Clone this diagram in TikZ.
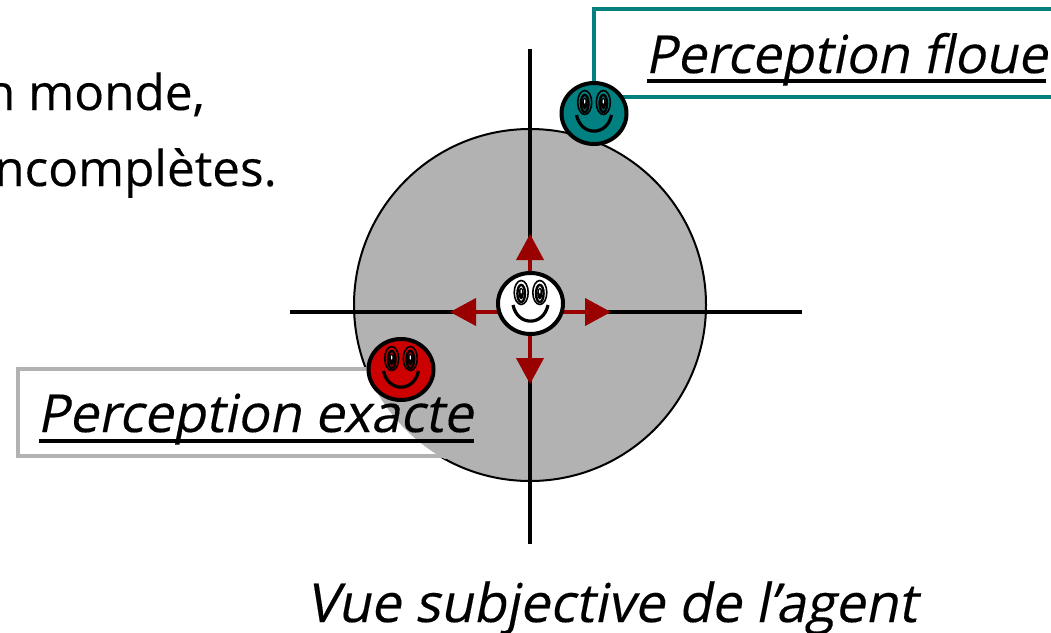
\documentclass[tikz,border=0pt]{standalone}
\usepackage{fontspec}
\setmainfont[FakeBold=0.25]{Open Sans}
\newfontfamily\slantfont[FakeSlant=0.2,FakeBold=0.25]{Open Sans}
\usetikzlibrary{arrows.meta,shapes.geometric}
\definecolor{tealc}{RGB}{0,128,128}
\definecolor{redc}{RGB}{204,0,0}
\definecolor{arrowc}{RGB}{153,0,0}
\definecolor{grayc}{RGB}{178,178,178}
\newcommand{\smiley}[4]{%
\node[ellipse,draw=black,line width=4pt,fill=#4,minimum width=65pt,minimum height=61pt,inner sep=0pt] (#1) at (#2,#3) {};
\begin{scope}[shift={(#2,#3)}]
\foreach \s in {-1,1}{
\draw[line width=1.6pt] (\s*9.3,-11) ellipse (7pt and 12pt);
\draw[line width=2.4pt] (\s*9.3,-10) ellipse (3.8pt and 8.6pt);
\fill (\s*9.3,-10) ellipse (2.6pt and 6pt);
\fill[white] (\s*9.3,-12) ellipse (0.7pt and 2.2pt);
}
\draw[line width=3.2pt] (-17.5,1.5) .. controls (-13,23) and (13,23) .. (17.5,1.5);
\end{scope}}
\tikzset{
 lbl/.style={font=\slantfont\fontsize{52.5pt}{52.5pt}\selectfont,inner sep=0pt,anchor=base west},
 body/.style={font=\fontsize{49.5pt}{49.5pt}\selectfont,inner sep=0pt,anchor=base east},
 axisline/.style={black,line width=4pt},
 reda/.style={arrowc,line width=4pt,-{Triangle[length=26pt,width=27pt]}},
 uline/.style={black,line width=4pt}
}
\begin{document}
\begin{tikzpicture}[x=1pt,y=-1pt]
\useasboundingbox (0,0) rectangle (1051,632);
% body text
\node[body] (t1) at (205,110) {n monde,};
\node[body] (t2) at (277,186) {ncomplètes.};
% disk
\coordinate (dc) at (530,305);
\fill[grayc] (dc) circle (176pt);
\draw[black,line width=2pt] (dc) circle (176pt);
% grey label box (covers the outline), disk fill returned on top of it
\draw[grayc,line width=4pt,fill=white] (18,369) rectangle (470,456);
\begin{scope}
\clip (16,367) rectangle (472,458);
\fill[grayc] (dc) circle (176pt);
\end{scope}
% teal label box
\draw[tealc,line width=4pt,fill=white] (594,9) rectangle (1060,97);
% axes
\coordinate (vt) at (530,49);
\coordinate (vb) at (530,544);
\coordinate (hl) at (290,312);
\coordinate (hr) at (802,312);
\draw[axisline] (vt) -- (vb);
\draw[axisline] (hl) -- (hr);
% arrows
\coordinate (c) at (530,312);
\coordinate (au) at (530,234);
\coordinate (ad) at (530,384);
\coordinate (al) at (450,312);
\coordinate (ar) at (611,312);
\draw[reda] (c) -- (au);
\draw[reda] (c) -- (ad);
\draw[reda] (c) -- (al);
\draw[reda] (c) -- (ar);
% smileys
\smiley{sw}{530.5}{303.5}{white}
\smiley{sr}{401}{369.5}{redc}
\smiley{st}{594}{113.5}{tealc}
% labels
\node[lbl] (pe) at (37,432) {Perception exacte};
\coordinate (pea) at (39,441);
\coordinate (peb) at (474,441);
\draw[uline] (pea) -- (peb);
\node[lbl] (pf) at (645,73) {Perception floue};
\coordinate (pfa) at (647,81);
\coordinate (pfb) at (1046,81);
\draw[uline] (pfa) -- (pfb);
\node[lbl,font=\slantfont\fontsize{53.6pt}{53.6pt}\selectfont] (vs) at (306,622) {Vue subjective de l’agent};
\end{tikzpicture}
\end{document}
